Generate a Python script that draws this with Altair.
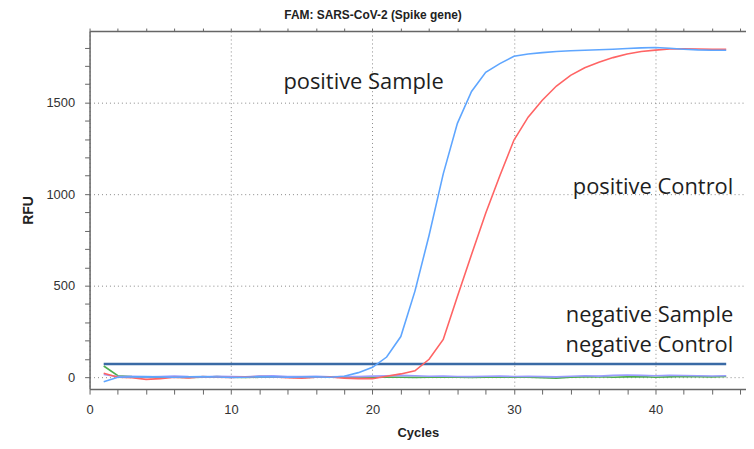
import altair as alt
import pandas as pd

cycles = list(range(1, 46))

pos_sample = [-25, 0, 2, 3, 1, 0, 2, 3, 1, -2, 0, 3, 2, 0, 1, 2, 0, 5, 25, 54,
              110, 222, 470, 775, 1110, 1386, 1560, 1665, 1712, 1752, 1765, 1772, 1778, 1782, 1785,
              1788, 1791, 1795, 1798, 1800, 1796, 1791, 1787, 1785, 1785]
pos_control = [22, 0, -3, -12, -8, 0, -4, 3, 0, -2, 1, 4, 2, -3, -5, 0, 2, -5, -8, -8,
               5, 18, 35, 98, 206, 440, 670, 895, 1100, 1295, 1420, 1512, 1590, 1648, 1690,
               1720, 1745, 1765, 1778, 1786, 1792, 1793, 1792, 1790, 1790]
neg_sample = [61, 8, 3, 0, 2, 0, -2, 0, 3, 0, -2, 0, 2, 0, -1, 0, 1, 0, -2, 0,
              1, 0, -1, 0, 2, 0, -1, 0, 1, 0, 0, -3, -5, 0, 2, 3, 0, 2, 3, 0, 2, 4, 3, 2, 4]
neg_control = [15, 3, 5, 2, 4, 6, 3, 2, 5, 4, 2, 6, 8, 4, 3, 5, 2, 4, 3, 6,
               8, 10, 8, 5, 6, 4, 3, 5, 6, 4, 5, 3, 2, 5, 8, 6, 10, 12, 10, 8, 10, 9, 8, 7, 8]

threshold_start = [1]
threshold_end = [45]
threshold_value = [72]

series_names = ["negative Sample", "negative Control", "positive Control", "positive Sample"]
series_colors = ["#4fae4f", "#9a9cff", "#ff6464", "#5fa6ff"]

labels = ["positive Sample", "positive Control", "negative Sample", "negative Control"]
label_x = [13.7, 45.5, 45.5, 45.5]
label_y = [1609, 1038, 337, 174]
label_side = ["left", "right", "right", "right"]

rows = []
for name, vals in zip(series_names, [neg_sample, neg_control, pos_control, pos_sample]):
    for c, v in zip(cycles, vals):
        rows.append({"cycle": c, "rfu": v, "series": name, "order": series_names.index(name)})
df = pd.DataFrame(rows)

thr = pd.DataFrame({"x": threshold_start, "x2": threshold_end, "y": threshold_value})
ann = pd.DataFrame({"label": labels, "x": label_x, "y": label_y, "side": label_side})

XDOM = [0, 46.4]
YDOM = [-65, 1890]
AX = "#666666"
FONT = "Liberation Sans"

x_axis = alt.Axis(
    values=list(range(0, 47, 2)), tickCount=200, format="d",
    labelExpr="datum.value % 10 === 0 ? datum.label : ''",
    labelOverlap=False, labelFlush=False,
    tickSize=5, tickColor=AX, domainColor=AX, domainWidth=1.5,
    labelFont=FONT, labelFontSize=13, labelColor="#333333", labelPadding=10,
    title="Cycles", titleFont=FONT, titleFontSize=13, titleFontWeight="bold",
    titleColor="#222222", titlePadding=10,
    grid=True, gridDash=[1, 3], gridColor="#888888",
    gridOpacity={"condition": {"test": "datum.value % 10 === 0", "value": 1}, "value": 0},
)
y_axis = alt.Axis(
    values=list(range(0, 1801, 100)), tickCount=200, format="d",
    labelExpr="datum.value % 500 === 0 ? datum.label : ''",
    labelOverlap=False, labelFlush=False,
    tickSize=5, tickColor=AX, domainColor=AX, domainWidth=1.5,
    labelFont=FONT, labelFontSize=13, labelColor="#333333", labelPadding=10,
    title="RFU", titleFont=FONT, titleFontSize=14, titleFontWeight="bold",
    titleColor="#222222", titlePadding=10,
    grid=True, gridDash=[1, 3], gridColor="#888888",
    gridOpacity={"condition": {"test": "datum.value % 500 === 0", "value": 1}, "value": 0},
)

xs = alt.Scale(domain=XDOM, nice=False, zero=False)
ys = alt.Scale(domain=YDOM, nice=False, zero=False)

lines = alt.Chart(df).mark_line(strokeWidth=1.6, clip=True).encode(
    x=alt.X("cycle:Q", scale=xs, axis=x_axis),
    y=alt.Y("rfu:Q", scale=ys, axis=y_axis),
    color=alt.Color("series:N", scale=alt.Scale(domain=series_names, range=series_colors), legend=None),
    order=alt.Order("order:Q"),
    detail="series:N",
)

thresh = alt.Chart(thr).mark_rule(color="#3a6aa5", strokeWidth=2.5).encode(
    x=alt.X("x:Q", scale=xs),
    x2="x2:Q",
    y=alt.Y("y:Q", scale=ys),
)

def text_layer(side):
    return alt.Chart(ann).transform_filter(alt.datum.side == side).mark_text(
        font="Open Sans", fontSize=22, color="#1e1e1e", baseline="middle", align=side
    ).encode(
        x=alt.X("x:Q", scale=xs),
        y=alt.Y("y:Q", scale=ys),
        text="label:N",
    )

inner = alt.layer(thresh, lines, text_layer("left"), text_layer("right"))

top = alt.Chart(thr).mark_point(opacity=0).encode(
    x=alt.X("x:Q", scale=xs, axis=alt.Axis(
        orient="top", values=list(range(0, 47, 2)), tickCount=200, labels=False, title=None,
        tickSize=3, tickColor=AX, domainColor=AX, domainWidth=1.5, grid=False)),
    y=alt.Y("y:Q", scale=ys),
)

chart = alt.layer(inner, top).resolve_scale(x="independent").properties(
    width=660, height=360,
    padding={"left": 82, "top": 22, "right": 0, "bottom": 51},
    autosize=alt.AutoSizeParams(type="none"),
    title=alt.TitleParams("FAM: SARS-CoV-2 (Spike gene)", font=FONT, fontSize=12,
                          fontWeight="bold", color="#222222", anchor="middle",
                          offset=6, dx=-45),
).configure_view(stroke=None)

chart.save("out.html", embed_options={"renderer": "svg", "actions": False})
